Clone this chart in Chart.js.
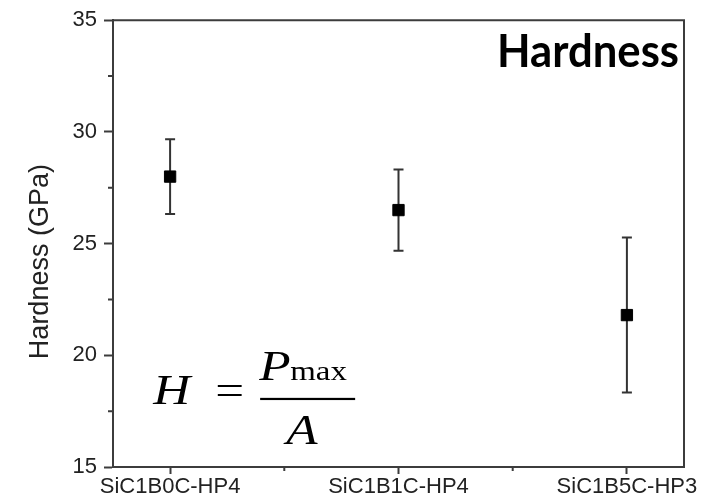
<!DOCTYPE html>
<html>
<head>
<meta charset="utf-8">
<title>Hardness</title>
<script src="https://cdn.jsdelivr.net/npm/chart.js@4/dist/chart.umd.min.js"></script>
<style>
  html, body { margin: 0; padding: 0; background: #ffffff; }
  #wrap { width: 716px; height: 503px; }
</style>
</head>
<body>
<div id="wrap"><canvas id="chart" width="716" height="503"></canvas></div>
<script>
// Samples and measured hardness (GPa) with standard deviation
const categories = ['SiC1B0C-HP4', 'SiC1B1C-HP4', 'SiC1B5C-HP3'];
const hardness = [28.0, 26.5, 21.8];
const hardnessErr = [1.67, 1.82, 3.47];
const yTicks = [15, 20, 25, 30, 35];

const AXIS = '#3c3c3c';
const TEXT = '#222222';

const points = categories.map((c, i) => ({ x: i, y: hardness[i] }));

// Error bars, minor ticks, frame, in-plot title and formula
const decorations = {
  id: 'decorations',
  beforeDatasetsDraw(chart) {
    const { ctx, scales: { x, y } } = chart;
    ctx.save();
    ctx.strokeStyle = '#333333';
    ctx.lineWidth = 2;
    hardness.forEach((v, i) => {
      const px = x.getPixelForValue(i);
      const top = y.getPixelForValue(v + hardnessErr[i]);
      const bot = y.getPixelForValue(v - hardnessErr[i]);
      ctx.beginPath();
      ctx.moveTo(px, top); ctx.lineTo(px, bot);
      ctx.moveTo(px - 5, top); ctx.lineTo(px + 5, top);
      ctx.moveTo(px - 5, bot); ctx.lineTo(px + 5, bot);
      ctx.stroke();
    });
    ctx.restore();
  },
  afterDraw(chart) {
    const { ctx, chartArea: a, scales: { x, y } } = chart;
    ctx.save();
    // frame: top and right edges
    ctx.strokeStyle = AXIS;
    ctx.lineWidth = 2;
    ctx.beginPath();
    ctx.moveTo(a.left, a.top); ctx.lineTo(a.right, a.top); ctx.lineTo(a.right, a.bottom);
    ctx.stroke();

    // minor ticks
    ctx.beginPath();
    for (let v = 17.5; v < 35; v += 5) {
      const py = y.getPixelForValue(v);
      ctx.moveTo(a.left - 5, py); ctx.lineTo(a.left, py);
    }
    [0.5, 1.5].forEach(v => {
      const px = x.getPixelForValue(v);
      ctx.moveTo(px, a.bottom); ctx.lineTo(px, a.bottom + 4);
    });
    ctx.stroke();

    // y axis title
    ctx.fillStyle = TEXT;
    ctx.font = '27px "Liberation Sans", Arial, sans-serif';
    ctx.textAlign = 'center';
    ctx.textBaseline = 'middle';
    ctx.save();
    ctx.translate(41, (a.top + a.bottom) / 2 + 18);
    ctx.rotate(-Math.PI / 2);
    ctx.fillText('Hardness (GPa)', 0, 0);
    ctx.restore();

    // in-plot title
    ctx.fillStyle = '#000000';
    ctx.font = 'bold 46px Lato, "Open Sans", sans-serif';
    ctx.textAlign = 'left';
    ctx.textBaseline = 'alphabetic';
    const title = 'Hardness';
    const tw = ctx.measureText(title).width;
    const sx = 182 / tw;
    ctx.save();
    ctx.translate(a.right - 5 - 182, a.top + 47);
    ctx.scale(sx, 1);
    ctx.fillText(title, 0, 0);
    ctx.restore();

    // formula H = Pmax / A
    const cx = x.getPixelForValue(0.6);
    const cy = y.getPixelForValue(18.05);
    const stretch = 1.22;
    const put = (txt, font, dx, dy) => {
      ctx.save();
      ctx.font = font;
      ctx.translate(cx + dx, cy + dy);
      ctx.scale(stretch, 1);
      ctx.fillText(txt, 0, 0);
      ctx.restore();
    };
    const ital = 'italic 42px "Liberation Serif", "Times New Roman", serif';
    const roman = '42px "Liberation Serif", "Times New Roman", serif';
    const sub = '27px "Liberation Serif", "Times New Roman", serif';
    put('H', ital, -154, 5);
    put('=', roman, -92, 5);
    put('P', ital, -48, -19);
    put('max', sub, -17, -19);
    put('A', ital, -21, 45);
    ctx.fillRect(cx - 47, cy - 1, 95, 2.2);
    ctx.restore();
  }
};

new Chart(document.getElementById('chart'), {
  type: 'scatter',
  data: {
    datasets: [{
      label: 'Hardness',
      data: points,
      pointStyle: 'rect',
      pointRadius: 8,
      pointHoverRadius: 8,
      backgroundColor: '#000000',
      borderColor: '#000000',
      borderWidth: 1
    }]
  },
  options: {
    responsive: false,
    animation: false,
    events: [],
    layout: { padding: { top: 18, right: 32, left: 0, bottom: 0 } },
    plugins: { legend: { display: false }, tooltip: { enabled: false } },
    scales: {
      x: {
        type: 'linear',
        min: -0.25,
        max: 2.25,
        afterFit(scale) { scale.height = 36; },
        afterBuildTicks(scale) { scale.ticks = categories.map((c, i) => ({ value: i })); },
        grid: { drawOnChartArea: false, drawTicks: true, tickLength: 7, tickColor: AXIS, tickWidth: 2 },
        border: { color: AXIS, width: 2 },
        ticks: {
          padding: 0,
          color: TEXT,
          maxRotation: 0,
          autoSkip: false,
          font: { family: '"Liberation Sans", Arial, sans-serif', size: 22 },
          callback: (v) => categories[v]
        }
      },
      y: {
        min: 15,
        max: 35,
        afterFit(scale) { scale.width = 113; },
        afterBuildTicks(scale) { scale.ticks = yTicks.map(v => ({ value: v })); },
        grid: { drawOnChartArea: false, drawTicks: true, tickLength: 9, tickColor: AXIS, tickWidth: 2 },
        border: { color: AXIS, width: 2 },
        ticks: {
          padding: 7,
          color: TEXT,
          font: { family: '"Liberation Sans", Arial, sans-serif', size: 22 }
        }
      }
    }
  },
  plugins: [decorations]
});
</script>
</body>
</html>
